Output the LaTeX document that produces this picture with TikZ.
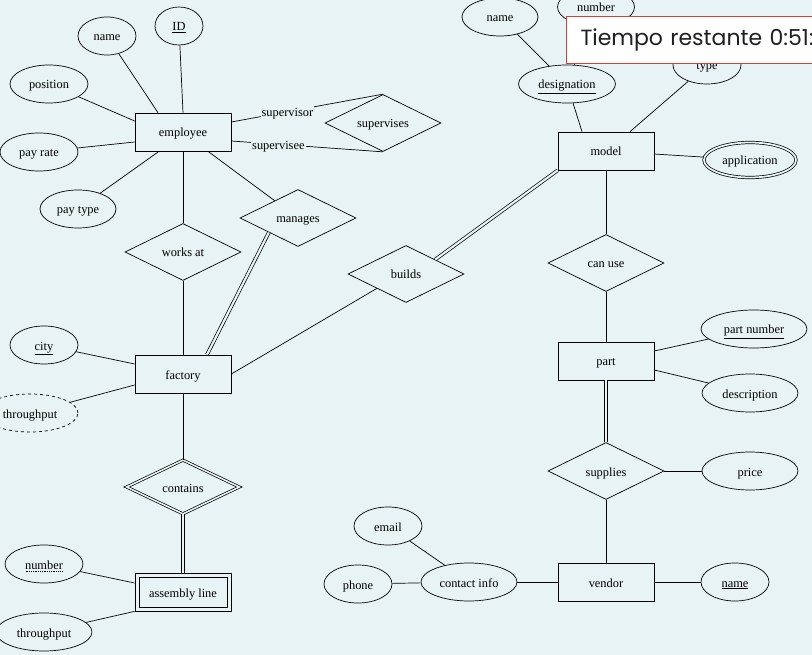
\documentclass[tikz,border=0pt]{standalone}
\usepackage{fontspec}
\setmainfont{Liberation Serif}
\newfontfamily\timerfont{Poppins}
\usetikzlibrary{shapes.geometric}
\definecolor{bgcol}{RGB}{232,243,245}
\definecolor{timerred}{RGB}{214,64,48}
\newsavebox\dubox
\newcommand\dotunder[1]{\sbox\dubox{#1}\usebox\dubox\llap{\smash{\raisebox{-2.4pt}{\hbox to \wd\dubox{\leaders\hbox to 1.8pt{\hss\vrule width 0.8pt height 0.6pt\hss}\hfill}}}}}

\begin{document}
\begin{tikzpicture}[x=1pt,y=-1pt,line width=0.7pt,
		txt/.style={font=\fontsize{12.4}{14}\selectfont,text height=10.4pt,text depth=0.4pt},
		ent/.style={txt,draw,rectangle,minimum width=96pt,minimum height=38pt,inner sep=0pt},
		rel/.style={txt,draw,diamond,aspect=2,minimum width=116pt,minimum height=57pt,inner sep=0pt},
		wrel/.style={rel,double=bgcol,double distance=1.6pt,minimum width=113pt,minimum height=54pt},
		attr/.style={txt,draw,ellipse,minimum height=38pt,inner sep=0pt},
		mattr/.style={attr,double=bgcol,double distance=1.8pt,minimum height=35pt},
		dattr/.style={attr,dashed},
		dbl/.style={double=bgcol,double distance=2.2pt},
		lbl/.style={txt,fill=bgcol,inner sep=1pt},
		timer/.style={draw=timerred,fill=white,line width=1pt,text width=250pt,minimum height=47pt,inner xsep=14pt,align=left,text=black!88,font=\timerfont\fontsize{22}{25}\selectfont}]
		\fill[bgcol] (0,0) rectangle (812,655);
		\useasboundingbox (0,0) rectangle (812,655);
		\clip (0,0) rectangle (812,655);

		\node[ent] (Emp) at (183,132) {employee};
		\node[attr,minimum width=48pt] (ID) at (179,26) {\underline{ID}};
		\node[attr,minimum width=58pt] (EName) at (107,36) {name};
		\node[attr,minimum width=78pt] (Pos) at (49,84) {position};
		\node[attr,minimum width=78pt] (Rate) at (39,152) {pay rate};
		\node[attr,minimum width=76pt] (PType) at (78,209) {pay type};
		\node[rel] (Sup) at (383,123) {supervises};
		\node[rel] (Works) at (183,252) {works at};
		\node[rel] (Mng) at (298,218) {manages};

		\node[ent] (Fac) at (183,374) {factory};
		\node[attr,minimum width=68pt] (City) at (44,345) {\underline{city}};
		\node[dattr,minimum width=96pt] (FThr) at (30,413) {throughput};
		\node[wrel] (Con) at (183,487) {contains};
		\node[ent] (Asm) at (183,592) {assembly line};
		\draw ([shift={(4.5pt,-4.5pt)}]Asm.north west) rectangle ([shift={(-4.5pt,4.5pt)}]Asm.south east);
		\node[attr,minimum width=78pt] (ANum) at (44,564) {\dotunder{number}};
		\node[attr,minimum width=96pt] (AThr) at (44,632) {throughput};

		\node[rel] (Bld) at (406,274) {builds};
		\node[ent] (Mdl) at (606,151) {model};
		\node[attr,minimum width=97pt] (Des) at (567,84) {\underline{designation}};
		\node[attr,minimum width=76pt] (MName) at (500,17) {name};
		\node[attr,minimum width=77pt] (MNum) at (596,7) {number};
		\node[attr,minimum width=68pt] (MType) at (707,65) {type};
		\node[mattr,minimum width=92pt] (App) at (750,160) {application};

		\node[rel] (Can) at (606,263) {can use};
		\node[ent] (Prt) at (606,361) {part};
		\node[attr,minimum width=106pt] (PNum) at (754,329) {\underline{part number}};
		\node[attr,minimum width=96pt] (Desc) at (750,393) {description};
		\node[rel] (Spl) at (606,471) {supplies};
		\node[attr,minimum width=96pt] (Price) at (750,471) {price};
		\node[ent] (Vnd) at (606,582) {vendor};
		\node[attr,minimum width=68pt] (VName) at (735,582) {\underline{name}};
		\node[attr,minimum width=96pt] (Cont) at (469,582) {contact info};
		\node[attr,minimum width=68pt] (Mail) at (388,526) {email};
		\node[attr,minimum width=68pt] (Phone) at (358,584) {phone};

		\draw (Emp.north) -- (ID);
		\draw ([xshift=-25pt]Emp.north) -- (EName);
		\draw (Pos) -- ([yshift=11pt]Emp.west);
		\draw (Rate) -- ([yshift=-10pt]Emp.west);
		\draw (PType) -- ([xshift=-24pt]Emp.south);
		\draw ([yshift=10pt]Emp.east) -- node[lbl,pos=.37] {supervisor} (Sup.north);
		\draw ([yshift=-9pt]Emp.east) -- node[lbl,pos=.31] {supervisee} (Sup.south);
		\draw (Emp) -- (Works);
		\draw ([xshift=25pt]Emp.south) -- (Mng);
		\draw (Works) -- (Fac);
		\draw[dbl] (Mng.south west) -- ([xshift=24pt]Fac.north);
		\draw (City) -- ([yshift=10pt]Fac.west);
		\draw (FThr) -- ([yshift=-11pt]Fac.west);
		\draw (Fac) -- (Con);
		\draw[dbl] (Con) -- (Asm);
		\draw (ANum) -- ([yshift=9pt]Asm.west);
		\draw (AThr) -- (Asm.south west);
		\draw (Fac.east) -- (Bld.south west);
		\draw[dbl] (Bld.north east) -- (Mdl.south west);
		\draw (Des) -- ([xshift=-24pt]Mdl.north);
		\draw (MType) -- ([xshift=24pt]Mdl.north);
		\draw (MName) -- (Des);
		\draw (MNum) -- (Des);
		\draw (Mdl) -- (App);
		\draw (Mdl) -- (Can);
		\draw (Can) -- (Prt);
		\draw ([yshift=10pt]Prt.east) -- (PNum);
		\draw ([yshift=-9pt]Prt.east) -- (Desc);
		\draw[dbl] (Prt) -- (Spl);
		\draw (Spl) -- (Price);
		\draw (Spl) -- (Vnd);
		\draw (Vnd) -- (VName);
		\draw (Vnd) -- (Cont);
		\draw (Cont) -- (Mail);
		\draw (Cont) -- (Phone);

		\node[timer,anchor=north west] (Tmr) at (566,16) {Tiempo restante 0:51:};
	\end{tikzpicture}
\end{document}
